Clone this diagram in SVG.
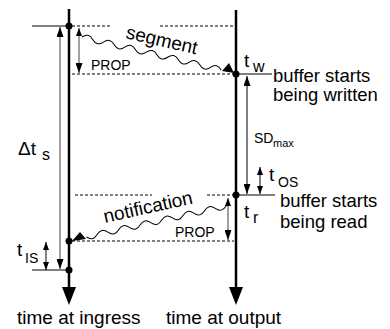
<svg xmlns="http://www.w3.org/2000/svg" width="390" height="329" viewBox="0 0 390 329">
  <defs>
    <style>
      text { font-family: "Liberation Sans", Arial, sans-serif; fill: #000; }
      .big { font-size: 19px; }
      .note { font-size: 18.5px; }
      .sub { font-size: 16px; }
      .small { font-size: 14px; }
      .timeline { stroke: #000; stroke-width: 2.5; fill: none; }
      .rule { stroke: #000; stroke-width: 1; fill: none; }
      .dash { stroke: #000; stroke-width: 1; stroke-dasharray: 3 2; fill: none; }
      .gauge { stroke: #6e6e6e; stroke-width: 1.3; fill: none; }
      .gauge-dark { stroke: #000; stroke-width: 1; fill: none; }
      .wave { stroke: #000; stroke-width: 1; fill: none; }
      .dot { fill: #000; }
      .head { fill: #000; }
    </style>
    <marker id="tip" viewBox="0 0 10 7" refX="10" refY="3.5" markerUnits="userSpaceOnUse" markerWidth="10" markerHeight="7" orient="auto-start-reverse">
      <path d="M0,0 L10,3.5 L0,7 Z" fill="#000"/>
    </marker>
    <marker id="tip-s" viewBox="0 0 8 6" refX="8" refY="3" markerUnits="userSpaceOnUse" markerWidth="8" markerHeight="6" orient="auto-start-reverse">
      <path d="M0,0 L8,3 L0,6 Z" fill="#000"/>
    </marker>
  </defs>

  <!-- reference rules: dashed and solid horizontals -->
  <g id="rules">
    <line class="rule" x1="32" y1="26" x2="69" y2="26"/>
    <line class="rule" x1="32" y1="270" x2="69" y2="270"/>
    <line class="rule" x1="236" y1="74" x2="272" y2="74"/>
    <line class="rule" x1="236" y1="195" x2="275" y2="195"/>
    <line class="dash" x1="72" y1="26" x2="112" y2="26"/>
    <line class="dash" x1="160" y1="26" x2="234" y2="26"/>
    <line class="dash" x1="72" y1="74" x2="234" y2="74"/>
    <line class="dash" x1="75" y1="195" x2="152" y2="195"/>
    <line class="dash" x1="207" y1="195" x2="234" y2="195"/>
    <line class="dash" x1="72" y1="241" x2="234" y2="241"/>
  </g>

  <!-- time axes -->
  <g id="ingress-axis">
    <line class="timeline" x1="69" y1="9" x2="69" y2="290"/>
    <polygon class="head" points="62,287 76,287 69,305"/>
    <circle class="dot" cx="69" cy="26" r="3.5"/>
    <circle class="dot" cx="69" cy="241" r="3.5"/>
    <circle class="dot" cx="69" cy="270" r="3.5"/>
    <text class="big" x="17" y="324">time at ingress</text>
  </g>
  <g id="output-axis">
    <line class="timeline" x1="236" y1="10" x2="236" y2="290"/>
    <polygon class="head" points="229,287 243,287 236,305"/>
    <circle class="dot" cx="236" cy="74" r="3.5"/>
    <circle class="dot" cx="236" cy="195" r="3.5"/>
    <text class="big" x="166" y="324">time at output</text>
  </g>

  <!-- interval gauges -->
  <g id="connectors">
    <line class="gauge" x1="60" y1="27" x2="60" y2="269" marker-start="url(#tip)" marker-end="url(#tip)"/>
    <line class="gauge" x1="79" y1="28" x2="79" y2="73" marker-start="url(#tip-s)" marker-end="url(#tip)"/>
    <line class="gauge" x1="228" y1="198" x2="228" y2="240" marker-start="url(#tip-s)" marker-end="url(#tip)"/>
    <line class="gauge-dark" x1="247" y1="76" x2="247" y2="194" marker-start="url(#tip)" marker-end="url(#tip)"/>
    <line class="gauge-dark" x1="260" y1="167" x2="260" y2="194" marker-start="url(#tip-s)" marker-end="url(#tip-s)"/>
    <line class="gauge-dark" x1="46" y1="242" x2="46" y2="270" marker-start="url(#tip-s)" marker-end="url(#tip-s)"/>

    <!-- wavy message lines -->
    <path class="wave" transform="translate(82,37) rotate(13.3)" d="M0,0 q5.5,-6 11,0 t11,0 t11,0 t11,0 t11,0 t11,0 t11,0 t11,0 t11,0 t11,0 t11,0 t11,0 t11,0"/>
    <polygon class="head" points="222,71 229,63 234,73"/>
    <path class="wave" transform="translate(226,206) rotate(167.5)" d="M0,0 q5.5,-6 11,0 t11,0 t11,0 t11,0 t11,0 t11,0 t11,0 t11,0 t11,0 t11,0 t11,0 t11,0 t11,0"/>
    <polygon class="head" points="72,241 80,232 86,239"/>
  </g>

  <!-- labels -->
  <g id="labels">
    <text class="big" transform="translate(125,38) rotate(13)">segment</text>
    <text class="big" transform="translate(105,223) rotate(-12.5)">notification</text>
    <text class="small" x="91" y="70">PROP</text>
    <text class="small" x="175" y="237">PROP</text>

    <text class="big" x="18" y="155">Δt</text>
    <text class="sub" x="42" y="160">s</text>
    <text class="big" x="17" y="256">t</text>
    <text class="small" x="25" y="263">IS</text>

    <text class="big" x="244" y="67">t</text>
    <text class="sub" x="253" y="72">w</text>
    <text class="big" x="244" y="218">t</text>
    <text class="sub" x="253" y="223">r</text>
    <text class="big" x="269" y="181">t</text>
    <text class="small" x="278" y="187">OS</text>
    <text class="small" x="254" y="143">SD</text>
    <text style="font-size:11px" x="273" y="147">max</text>

    <text class="note" x="273" y="82">buffer starts</text>
    <text class="note" x="273" y="101">being written</text>
    <text class="note" x="280" y="207">buffer starts</text>
    <text class="note" x="280" y="228">being read</text>
  </g>
</svg>
